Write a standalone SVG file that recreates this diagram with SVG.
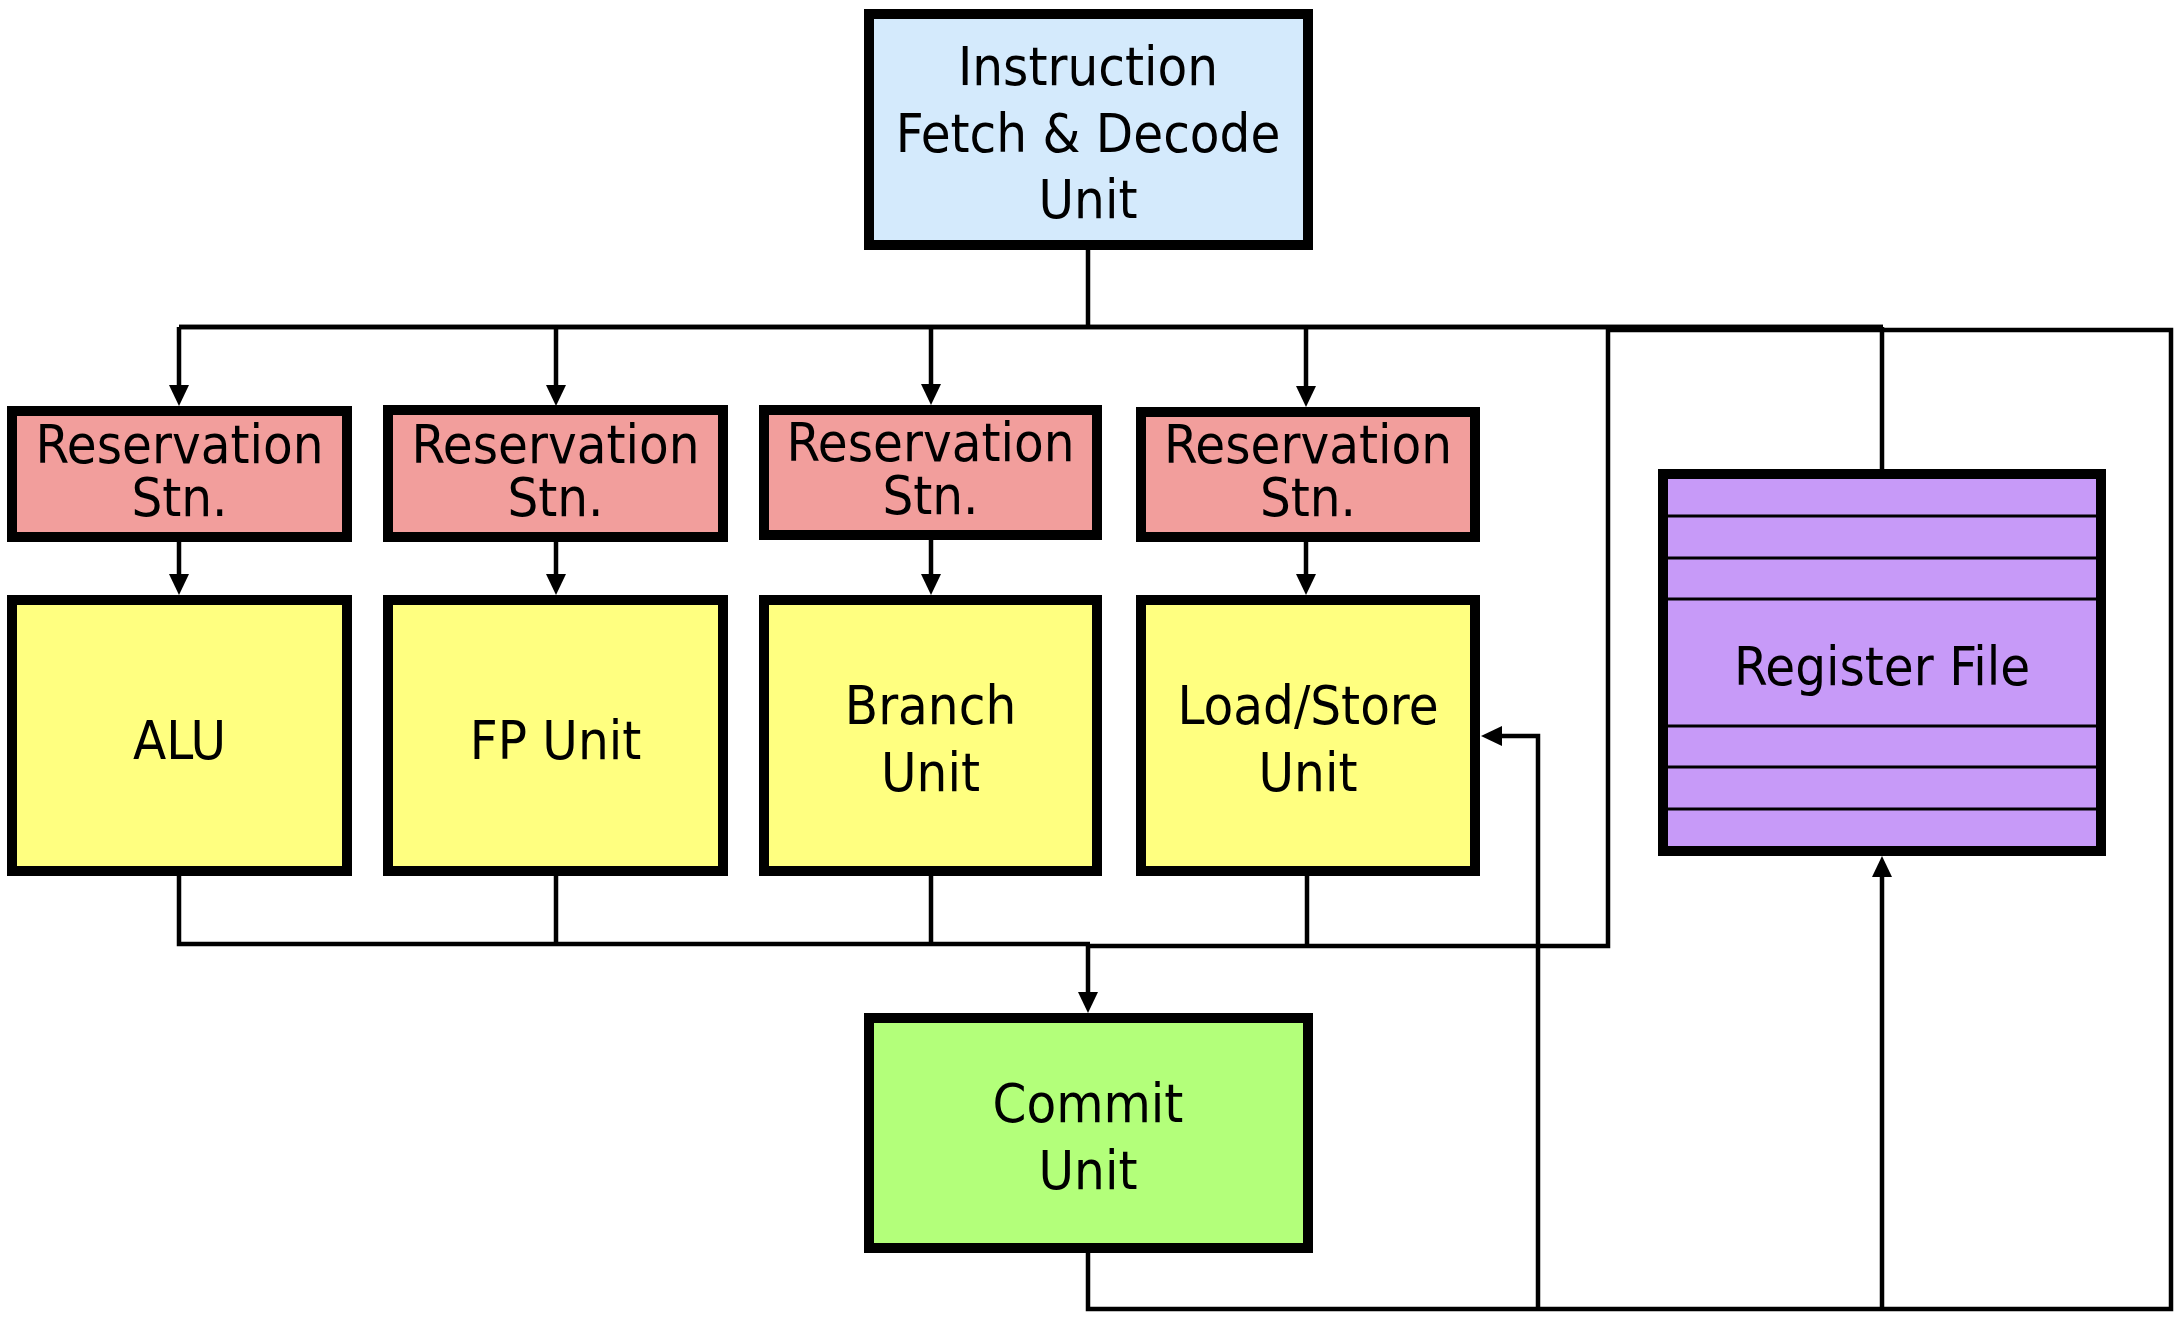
<svg xmlns="http://www.w3.org/2000/svg" width="2180" height="1322" viewBox="0 0 2180 1322">
<style>
.box{stroke:#000;stroke-width:10}
.fetch{fill:#D4EAFC}
.rs{fill:#F29E9C}
.fu{fill:#FFFF80}
.commit{fill:#B3FF7A}
.rf{fill:#C79AF8}
.t{font-family:"DejaVu Sans Condensed","DejaVu Sans",sans-serif;font-stretch:condensed;font-size:54px;fill:#000;text-anchor:middle}
.c{fill:none;stroke:#000;stroke-width:4.5}
.a{fill:none;stroke:#000;stroke-width:4.5;marker-end:url(#arr)}
.rl{stroke:#000;stroke-width:3}
</style>
<defs>
<marker id="arr" viewBox="0 0 21 20" refX="10" refY="10" markerWidth="21" markerHeight="20" orient="auto" markerUnits="userSpaceOnUse">
<path d="M0,0 L21,10 L0,20 z" fill="#000"/>
</marker>
</defs>
<rect width="2180" height="1322" fill="#fff"/>
<g id="connectors">
<path class="c" d="M1088,250 V327"/>
<path class="a" d="M179,327 H1883 M179,327 V395"/>
<path class="c" d="M179,327 H1883"/>
<path class="a" d="M556,327 V395"/>
<path class="a" d="M931,327 V394"/>
<path class="a" d="M1306,327 V396"/>
<path class="a" d="M179,542 V584"/>
<path class="a" d="M556,542 V584"/>
<path class="a" d="M931,540 V584"/>
<path class="a" d="M1306,542 V584"/>
<path class="c" d="M179,876 V944 H1090"/>
<path class="c" d="M556,876 V944"/>
<path class="c" d="M931,876 V944"/>
<path class="c" d="M1307,876 V946"/>
<path class="c" d="M1088,946 H1608 V330 H2171 V1309 H1088 V1253"/>
<path class="a" d="M1088,944 V1002"/>
<path class="c" d="M1882,469 V327"/>
<path class="a" d="M1882,1309 V867"/>
<path class="a" d="M1538,1309 V736 H1492"/>
</g>
<g id="fetch">
<rect class="box fetch" x="869" y="14" width="439" height="231"/>
<text class="t" x="1088" y="85">Instruction</text>
<text class="t" x="1088" y="152">Fetch &amp; Decode</text>
<text class="t" x="1088" y="218">Unit</text>
</g>
<g id="rs1">
<rect class="box rs" x="12" y="411" width="335" height="126"/>
<text class="t" x="179.5" y="463">Reservation</text>
<text class="t" x="179.5" y="516">Stn.</text>
</g>
<g id="rs2">
<rect class="box rs" x="388" y="410" width="335" height="127"/>
<text class="t" x="555.5" y="463">Reservation</text>
<text class="t" x="555.5" y="516">Stn.</text>
</g>
<g id="rs3">
<rect class="box rs" x="764" y="410" width="333" height="125"/>
<text class="t" x="930.5" y="461">Reservation</text>
<text class="t" x="930.5" y="514">Stn.</text>
</g>
<g id="rs4">
<rect class="box rs" x="1141" y="412" width="334" height="125"/>
<text class="t" x="1308" y="463">Reservation</text>
<text class="t" x="1308" y="516">Stn.</text>
</g>
<g id="alu">
<rect class="box fu" x="12" y="600" width="335" height="271"/>
<text class="t" x="179.5" y="759">ALU</text>
</g>
<g id="fpu">
<rect class="box fu" x="388" y="600" width="335" height="271"/>
<text class="t" x="555.5" y="759">FP Unit</text>
</g>
<g id="branch">
<rect class="box fu" x="764" y="600" width="333" height="271"/>
<text class="t" x="930.5" y="724">Branch</text>
<text class="t" x="930.5" y="791">Unit</text>
</g>
<g id="loadstore">
<rect class="box fu" x="1141" y="600" width="334" height="271"/>
<text class="t" x="1308" y="724">Load/Store</text>
<text class="t" x="1308" y="791">Unit</text>
</g>
<g id="commit">
<rect class="box commit" x="869" y="1018" width="439" height="230"/>
<text class="t" x="1088" y="1122">Commit</text>
<text class="t" x="1088" y="1189">Unit</text>
</g>
<g id="regfile">
<rect class="box rf" x="1663" y="474" width="438" height="377"/>
<line class="rl" x1="1668" y1="516" x2="2096" y2="516"/>
<line class="rl" x1="1668" y1="558" x2="2096" y2="558"/>
<line class="rl" x1="1668" y1="599" x2="2096" y2="599"/>
<line class="rl" x1="1668" y1="726" x2="2096" y2="726"/>
<line class="rl" x1="1668" y1="767" x2="2096" y2="767"/>
<line class="rl" x1="1668" y1="809" x2="2096" y2="809"/>
<text class="t" x="1882" y="685">Register File</text>
</g>
</svg>
